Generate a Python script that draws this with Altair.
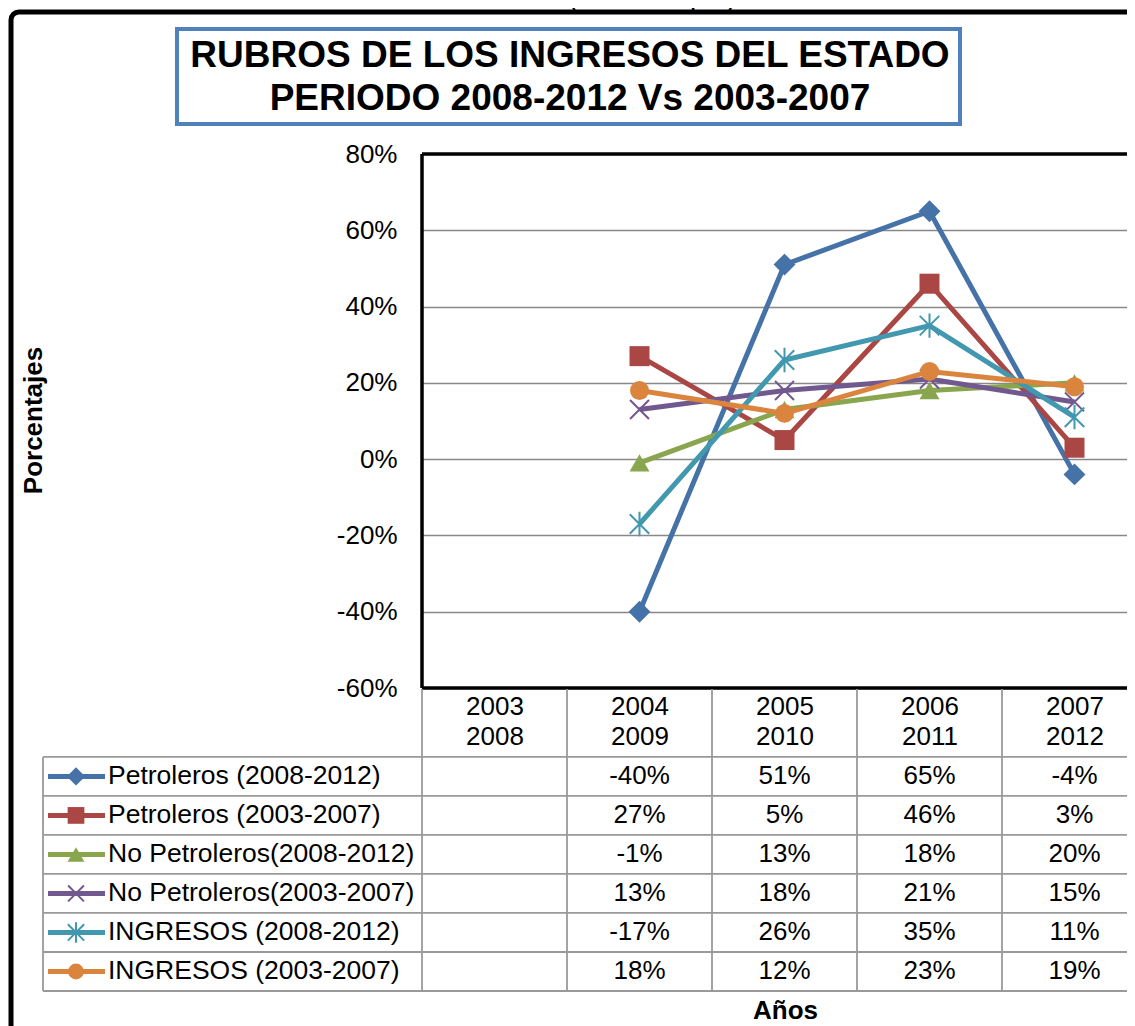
import altair as alt
import pandas as pd

# ---------------- data ----------------
years_top = ["2003", "2004", "2005", "2006", "2007"]
years_bottom = ["2008", "2009", "2010", "2011", "2012"]

series_names = [
    "Petroleros (2008-2012)",
    "Petroleros (2003-2007)",
    "No Petroleros(2008-2012)",
    "No Petroleros(2003-2007)",
    "INGRESOS (2008-2012)",
    "INGRESOS (2003-2007)",
]
pet_0812 = [None, -40, 51, 65, -4]
pet_0307 = [None, 27, 5, 46, 3]
nopet_0812 = [None, -1, 13, 18, 20]
nopet_0307 = [None, 13, 18, 21, 15]
ing_0812 = [None, -17, 26, 35, 11]
ing_0307 = [None, 18, 12, 23, 19]
series_values = [pet_0812, pet_0307, nopet_0812, nopet_0307, ing_0812, ing_0307]

colors = ["#4572A7", "#AA4643", "#89A54E", "#71588F", "#4198AF", "#DB843D"]

title_lines = ["RUBROS DE LOS INGRESOS DEL ESTADO", "PERIODO 2008-2012 Vs 2003-2007"]
caption_text = "2003-2007 (Porcentajes)."
y_title = "Porcentajes"
x_title = "Años"
y_ticks = [-60, -40, -20, 0, 20, 40, 60, 80]

# ---------------- tables built from the arrays ----------------
rows = []
for si, (name, vals) in enumerate(zip(series_names, series_values)):
    for k, v in enumerate(vals):
        if v is not None:
            rows.append({"series": name, "idx": k, "v": v, "row": si + 0.5,
                         "label": f"{v}%"})
df = pd.DataFrame(rows)
legend_df = pd.DataFrame({"series": series_names,
                          "row": [i + 0.5 for i in range(len(series_names))]})

# ---------------- layout constants (pixels / table units) ----------------
FONT = "Liberation Sans"
FS = 26
COL_W = 145
N_COLS = len(years_top)
PLOT_W = 705          # visible part of the plot area (right side cropped)
PLOT_H = 534
HEADER_TOP = -1.74    # table units (one unit = one table row)
TABLE_RANGE = [535, 837]
LABEL_LEFT = -0.5 - 379 / COL_W   # left border of the legend column in column units

xscale = alt.Scale(domain=[-0.5, N_COLS - 0.5], range=[0, COL_W * N_COLS], nice=False, zero=False)
yscale = alt.Scale(domain=[-60, 80], nice=False, zero=False)
tscale = alt.Scale(domain=[HEADER_TOP, 6], range=TABLE_RANGE, nice=False, zero=False)

x_labels_expr = (
    "[" + str(years_top) + "[datum.value], " + str(years_bottom) + "[datum.value]]"
)
y_axis = alt.Axis(values=y_ticks, labelExpr="datum.value + '%'", labelFont=FONT, labelFontSize=FS,
                  labelColor="black", labelPadding=25, ticks=False, domain=False,
                  grid=True, gridColor="#888888", gridWidth=1.6,
                  title=y_title, titleFont=FONT, titleFontSize=FS, titleFontWeight="bold",
                  titleColor="black", titleAngle=270, titleX=-389, titleY=266,
                  titleAlign="center", titleBaseline="middle")
x_axis = alt.Axis(values=list(range(N_COLS)), labelExpr=x_labels_expr, labelFont=FONT,
                  labelFontSize=FS, labelColor="black", labelLineHeight=30, labelBaseline="top",
                  labelPadding=5, labelOverlap=False, labelFlush=False, labelBound=False,
                  ticks=False, domain=False, grid=False,
                  title=x_title, titleFont=FONT, titleFontSize=FS, titleFontWeight="bold",
                  titleColor="black", titleX=363, titleY=322, titleAlign="center",
                  titleBaseline="middle")


def X(field):
    return alt.X(field, scale=xscale, axis=x_axis)


def Y(field):
    return alt.Y(field, scale=yscale, axis=y_axis)


def T(field):
    return alt.Y(field, scale=tscale, axis=None)


sym = {
    0: dict(shape="diamond", filled=True, size=480),
    1: dict(shape="square", filled=True, size=400),
    2: dict(shape="triangle-up", filled=True, size=400),
    3: dict(shape="M-1,-1L1,1M-1,1L1,-1", filled=False, size=360, strokeWidth=2),
    4: dict(shape="M-1,-1L1,1M-1,1L1,-1M0,-1.25L0,1.25", filled=False, size=380, strokeWidth=2),
    5: dict(shape="circle", filled=True, size=360),
}
color_enc = alt.Color("series:N", scale=alt.Scale(domain=series_names, range=colors), legend=None)

# ---------------- decoration (outer frame, title box, title) ----------------
base_deco = alt.Chart(pd.DataFrame({"a": [0]}))
outer_frame = base_deco.mark_rect(fill=None, stroke="black", strokeWidth=5, cornerRadius=8).encode(
    x=alt.value(-411), x2=alt.value(900), y=alt.value(-142), y2=alt.value(1000)
)
title_box = base_deco.mark_rect(fill="white", stroke="#4F81BD", strokeWidth=4).encode(
    x=alt.value(-245), x2=alt.value(538), y=alt.value(-125), y2=alt.value(-30)
)
caption = base_deco.mark_text(font=FONT, fontSize=28, align="center", baseline="alphabetic",
                              color="black").encode(
    x=alt.value(163), y=alt.value(-147), text=alt.value(caption_text)
)
title_text = base_deco.mark_text(font=FONT, fontSize=37, fontWeight="bold", align="center",
                                  baseline="middle", color="black").encode(
    x=alt.value(148), y=alt.value(-98), text=alt.value(title_lines[0])
) + base_deco.mark_text(font=FONT, fontSize=37, fontWeight="bold", align="center",
                        baseline="middle", color="black").encode(
    x=alt.value(148), y=alt.value(-55), text=alt.value(title_lines[1])
)

# ---------------- plot area ----------------
plot_layers = []
for si, name in enumerate(series_names):
    d = df[df["series"] == name]
    base = alt.Chart(d)
    line = base.mark_line(strokeWidth=5).encode(x=X("idx:Q"), y=Y("v:Q"), color=color_enc)
    s = sym[si]
    pt_kwargs = dict(shape=s["shape"], filled=s["filled"], size=s["size"], opacity=1)
    if not s["filled"]:
        pt_kwargs["strokeWidth"] = s["strokeWidth"]
    pts = base.mark_point(**pt_kwargs).encode(x=X("idx:Q"), y=Y("v:Q"), color=color_enc)
    plot_layers += [line, pts]

frame_h = alt.Chart(pd.DataFrame({"v": [80, -60]})).mark_rule(color="black", strokeWidth=3.5).encode(
    y=Y("v:Q")
)
frame_v = alt.Chart(pd.DataFrame({"idx": [-0.5], "v": [80], "v2": [-60]})).mark_rule(
    color="black", strokeWidth=3.5).encode(x=X("idx:Q"), y=Y("v:Q"), y2="v2:Q")
plot = alt.layer(*plot_layers, frame_h, frame_v)

# ---------------- data table ----------------
GRID = "#999999"
col_borders = pd.DataFrame({"idx": [k - 0.5 for k in range(N_COLS + 1)],
                            "r0": [HEADER_TOP] * (N_COLS + 1), "r1": [6] * (N_COLS + 1)})
left_border = pd.DataFrame({"idx": [LABEL_LEFT], "r0": [0], "r1": [6]})
row_borders = pd.DataFrame({"row": list(range(len(series_names) + 1)),
                            "x0": [LABEL_LEFT] * (len(series_names) + 1),
                            "x1": [N_COLS - 0.5] * (len(series_names) + 1)})

vlines = alt.Chart(pd.concat([col_borders, left_border])).mark_rule(color=GRID, strokeWidth=1.8).encode(
    x=X("idx:Q"), y=T("r0:Q"), y2="r1:Q"
)
hlines = alt.Chart(row_borders).mark_rule(color=GRID, strokeWidth=1.8).encode(
    x=X("x0:Q"), x2="x1:Q", y=T("row:Q")
)
cell_text = alt.Chart(df).mark_text(font=FONT, fontSize=FS, color="black", align="center",
                                    baseline="middle").encode(
    x=X("idx:Q"), y=T("row:Q"), text="label:N"
)
leg_text = alt.Chart(legend_df).mark_text(font=FONT, fontSize=26.5, color="black", align="left",
                                          baseline="middle").encode(
    x=alt.value(-314), y=T("row:Q"), text="series:N"
)
leg_layers = []
for si, name in enumerate(series_names):
    d = legend_df[legend_df["series"] == name]
    b = alt.Chart(d)
    leg_layers.append(b.mark_rule(strokeWidth=5).encode(
        x=alt.value(-374), x2=alt.value(-317), y=T("row:Q"), color=color_enc))
    s = sym[si]
    kw = dict(shape=s["shape"], filled=s["filled"], size=int(s["size"] * 0.7), opacity=1)
    if not s["filled"]:
        kw["strokeWidth"] = s["strokeWidth"]
    leg_layers.append(b.mark_point(**kw).encode(
        x=alt.value(-346), y=T("row:Q"), color=color_enc))

table = alt.layer(vlines, hlines, cell_text, leg_text, *leg_layers)

deco = alt.layer(outer_frame, caption, title_box, title_text)

chart = alt.layer(deco, plot, table).resolve_scale(y="independent").properties(
    width=PLOT_W, height=PLOT_H,
    autosize=alt.AutoSizeParams(type="none"),
    padding={"left": 414, "top": 146, "right": 0, "bottom": 338},
).configure_view(stroke=None).configure(background="white")

chart.save("out.html", embed_options={"renderer": "svg", "actions": False})
